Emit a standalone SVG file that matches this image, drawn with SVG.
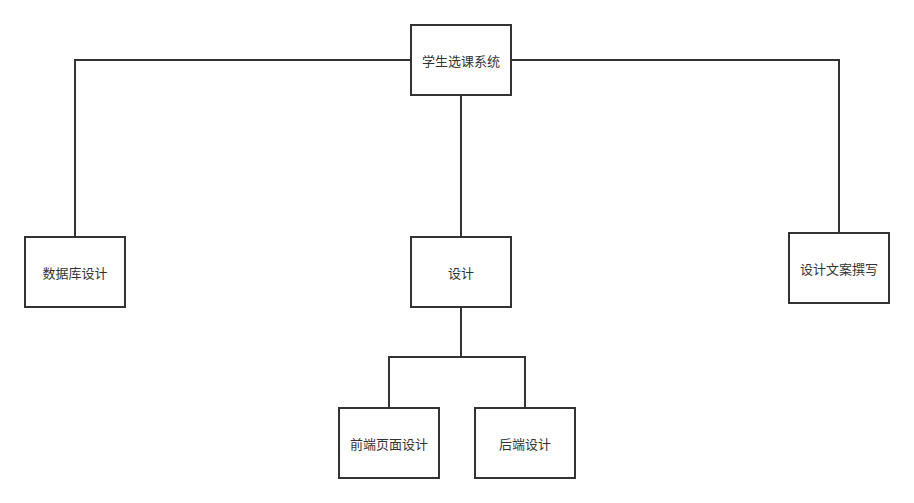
<svg xmlns="http://www.w3.org/2000/svg" width="914" height="503" viewBox="0 0 914 503">
<style>
.box{fill:#fff;stroke:#333;stroke-width:2}
.lbl{font-family:"Noto Sans CJK SC","Liberation Sans",sans-serif;font-size:13px;fill:#333;text-anchor:middle;dominant-baseline:central}
.edge{fill:none;stroke:#333;stroke-width:2}
</style>
<rect width="914" height="503" fill="#fff"/>
<g id="connectors">
<path class="edge" d="M411,60 H75 V237"/>
<path class="edge" d="M511,60 H839 V233"/>
<path class="edge" d="M461,95 V237"/>
<path class="edge" d="M461,307 V357 H389 V408"/>
<path class="edge" d="M461,357 H525 V408"/>
</g>
<g id="root"><rect class="box" x="411" y="25" width="100" height="70"/><text class="lbl" x="461" y="60">学生选课系统</text></g>
<g id="db"><rect class="box" x="25" y="237" width="100" height="70"/><text class="lbl" x="75" y="272">数据库设计</text></g>
<g id="design"><rect class="box" x="411" y="237" width="100" height="70"/><text class="lbl" x="461" y="272">设计</text></g>
<g id="doc"><rect class="box" x="789" y="233" width="100" height="70"/><text class="lbl" x="839" y="268">设计文案撰写</text></g>
<g id="front"><rect class="box" x="339" y="408" width="100" height="70"/><text class="lbl" x="389" y="443">前端页面设计</text></g>
<g id="back"><rect class="box" x="475" y="408" width="100" height="70"/><text class="lbl" x="525" y="443">后端设计</text></g>
</svg>
